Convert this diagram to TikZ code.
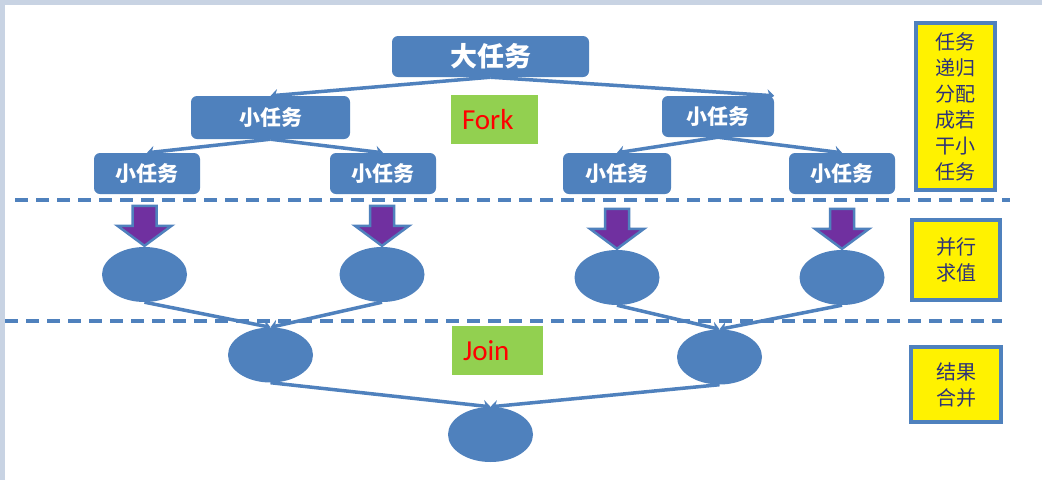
\documentclass[tikz,border=0pt]{standalone}
\usepackage{fontspec}
\newfontfamily\cjk{Noto Sans CJK SC}
\newfontfamily\calib{Carlito}
\usetikzlibrary{shapes.geometric,arrows.meta}
\definecolor{pptblue}{RGB}{79,129,189}
\definecolor{pptgreen}{RGB}{146,208,80}
\definecolor{pptpurple}{RGB}{112,48,160}
\definecolor{notetext}{RGB}{45,50,120}
\definecolor{frame}{RGB}{200,211,227}

\begin{document}
\begin{tikzpicture}[x=1pt,y=-1pt,
	task/.style={fill=pptblue, rounded corners=6pt, inner sep=0pt, text=white, font=\cjk\bfseries\fontsize{21}{24}\selectfont},
	blob/.style={ellipse, fill=pptblue, inner sep=0pt, minimum width=85pt, minimum height=55pt},
	link/.style={draw=pptblue, line width=3.5pt, -{Stealth[length=7pt,width=12pt]}},
	sep/.style={draw=pptblue, line width=4pt, dash pattern=on 13pt off 8pt},
	phase/.style={fill=pptgreen, inner sep=0pt, inner xsep=11pt, minimum height=49pt, align=left, text=red, font=\calib\fontsize{29}{32}\selectfont},
	note/.style={draw=pptblue, line width=4pt, fill=yellow, inner sep=0pt, align=center, text=notetext, font=\cjk\fontsize{20}{26}\selectfont},
	fatarrow/.pic={\draw[fill=pptpurple, draw=pptblue, line width=2.5pt, line join=miter] (-12,-41) -- (12,-41) -- (12,-21) -- (27,-21) -- (0,-1) -- (-27,-21) -- (-12,-21) -- cycle;}
]
	\useasboundingbox (0,0) rectangle (1042,480);
	\fill[white] (0,0) rectangle (1042,480);
	\fill[frame] (0,0) rectangle (5,480);
	\fill[frame] (0,0) rectangle (1042,5);

	% fork
	\node[task, minimum width=197pt, minimum height=41pt, font=\cjk\bfseries\fontsize{27}{30}\selectfont] (big) at (490.5,56.5) {大任务};
	\node[task, minimum width=159pt, minimum height=43pt] (lmid) at (270.5,117.5) {小任务};
	\node[task, minimum width=112pt, minimum height=41pt] (rmid) at (718,116.5) {小任务};
	\node[task, minimum width=106pt, minimum height=41pt] (leafa) at (147,173.5) {小任务};
	\node[task, minimum width=106pt, minimum height=41pt] (leafb) at (383,173.5) {小任务};
	\node[task, minimum width=108pt, minimum height=41pt] (leafc) at (617,173.5) {小任务};
	\node[task, minimum width=106pt, minimum height=41pt] (leafd) at (842,173.5) {小任务};

	\draw[link] (big.south) -- (lmid.north);
	\draw[link] (big.south) -- (rmid.north east);
	\draw[link] (lmid.south) -- (leafa.north);
	\draw[link] (lmid.south) -- (leafb.north);
	\draw[link] (rmid.south) -- (leafc.north);
	\draw[link] (rmid.south) -- (leafd.north);

	\node[phase, text width=65pt] (fork) at (494.5,119.5) {Fork};

	\draw[sep] (15,200) -- (1010,200);

	% compute
	\node[blob] (ea) at (144.5,274.5) {};
	\node[blob] (eb) at (382,274.5) {};
	\node[blob] (ec) at (617,277.5) {};
	\node[blob] (ed) at (842,277.5) {};

	\pic at (ea.north) {fatarrow};
	\pic at (eb.north) {fatarrow};
	\pic at (ec.north) {fatarrow};
	\pic at (ed.north) {fatarrow};

	\draw[sep] (5,321) -- (1002,321);

	% join
	\node[blob] (ja) at (270.5,355) {};
	\node[blob] (jb) at (719.5,357) {};
	\node[blob] (root) at (490.5,434.5) {};

	\draw[link] (ea.south) -- (ja.north);
	\draw[link] (eb.south) -- (ja.north);
	\draw[link] (ec.south) -- (jb.north);
	\draw[link] (ed.south) -- (jb.north);
	\draw[link] (ja.south) -- (root.north);
	\draw[link] (jb.south) -- (root.north);

	\node[phase, text width=69pt] (join) at (497.5,350.5) {Join};

	% notes
	\node[note, minimum width=79pt, minimum height=167pt] (nfork) at (955.5,106.5) {任务\\递归\\分配\\成若\\干小\\任务};
	\node[note, minimum width=88pt, minimum height=80pt] (ncalc) at (956,260) {并行\\求值};
	\node[note, minimum width=90pt, minimum height=75pt] (njoin) at (956,384.5) {结果\\合并};
\end{tikzpicture}
\end{document}
